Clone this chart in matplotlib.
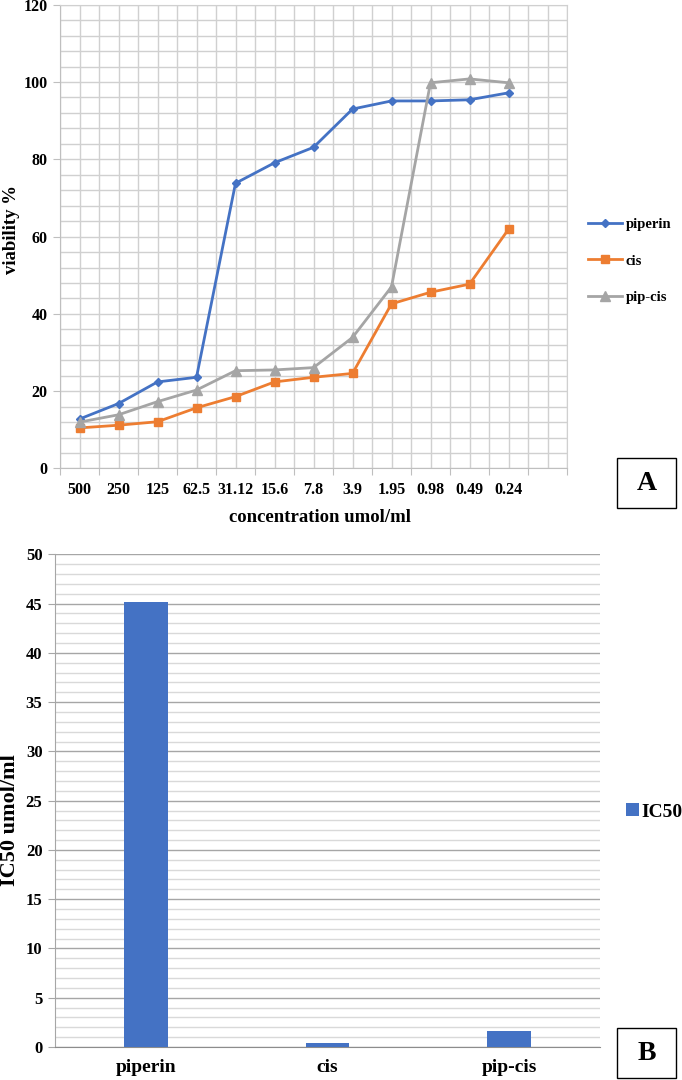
import numpy as np
import matplotlib
matplotlib.use("Agg")
from matplotlib import pyplot as plt
from matplotlib.patches import Rectangle

plt.rcParams['font.family'] = ['Liberation Serif', 'DejaVu Serif']
plt.rcParams['font.weight'] = 'bold'

# ---- data ----
concentrations = ["500", "250", "125", "62.5", "31.12", "15.6", "7.8", "3.9",
                  "1.95", "0.98", "0.49", "0.24"]
piperin = [12.8, 16.8, 22.4, 23.6, 73.8, 79.1, 83.1, 93.0, 95.1, 95.1, 95.4, 97.2]
cis = [10.5, 11.2, 12.1, 15.7, 18.6, 22.4, 23.6, 24.6, 42.6, 45.6, 47.7, 61.9]
pip_cis = [12.0, 13.9, 17.3, 20.3, 25.3, 25.5, 26.1, 33.9, 47.0, 99.8, 100.8, 99.8]

ic50_names = ["piperin", "cis", "pip-cis"]
ic50_values = [45.2, 0.4, 1.65]

blue = '#4472C4'
orange = '#ED7D31'
grey = '#A5A5A5'
gridc = '#d0d0d0'

W, H = 682, 1080
fig = plt.figure(figsize=(W / 100, H / 100), dpi=100)

#=============== A : viability curves ===============
ax1 = fig.add_axes([60 / W, 1 - 468.5 / H, 507 / W, 463.8 / H])
x = np.arange(len(concentrations))
ax1.plot(x, piperin, color=blue, lw=2, marker='D', ms=4.5, label='piperin', zorder=3)
ax1.plot(x, cis, color=orange, lw=2, marker='s', ms=6, label='cis', zorder=3)
ax1.plot(x, pip_cis, color=grey, lw=2, marker='^', ms=6.5, label='pip-cis', zorder=3)

ax1.set_xlim(-0.5, len(concentrations) + 0.5)
ax1.set_ylim(0, 120)
ax1.set_xticks(np.arange(-0.5, len(concentrations) + 1, 1))
ax1.set_xticklabels([])
ax1.set_xticks(np.arange(len(concentrations) + 1), minor=True)
ax1.set_xticklabels(concentrations + [""], minor=True)
ax1.set_yticks(np.arange(0, 121, 20))
ax1.set_yticks(np.arange(0, 121, 4), minor=True)
ax1.tick_params(axis='x', which='major', length=5, color='#bfbfbf', direction='out')
ax1.tick_params(axis='x', which='minor', length=0, pad=10, labelsize=11.5)
ax1.tick_params(axis='y', which='major', length=5, color='#bfbfbf', pad=4, labelsize=11.5)
ax1.tick_params(axis='y', which='minor', length=0)
ax1.grid(True, which='both', color=gridc, lw=1, zorder=0)
ax1.set_axisbelow(True)
for s in ax1.spines.values():
    s.set_color(gridc)
ax1.spines['left'].set_color('#bfbfbf')
ax1.spines['bottom'].set_color('#bfbfbf')

fig.text(11.5 / W, 1 - 229 / H, "viability %", rotation=90, ha='center',
         va='center', fontsize=13.5, fontweight='bold')
fig.text(320 / W, 1 - 518 / H, "concentration umol/ml", ha='center',
         va='center', fontsize=13.5, fontweight='bold')

fig.legend(handles=ax1.get_lines(), loc='center left',
           bbox_to_anchor=(588 / W, 1 - 261 / H), frameon=False,
           borderpad=0, borderaxespad=0, handlelength=2.3, handletextpad=0.3,
           labelspacing=1.6, prop={'weight': 'bold', 'size': 10.5})

#=============== B : IC50 bars ===============
ax2 = fig.add_axes([55 / W, 1 - 1047 / H, 545 / W, 492.7 / H])
xb = np.arange(len(ic50_names))
bars = ax2.bar(xb, ic50_values, width=0.24, color=blue, label='IC50', zorder=3)
ax2.set_xlim(-0.5, len(ic50_names) - 0.5)
ax2.set_ylim(0, 50)
ax2.set_xticks(xb)
ax2.set_xticklabels(ic50_names)
ax2.set_yticks(np.arange(0, 51, 5))
ax2.set_yticks(np.arange(0, 51, 1), minor=True)
ax2.tick_params(axis='x', length=0, pad=9, labelsize=14)
ax2.tick_params(axis='y', which='major', length=5, color='#a6a6a6', pad=4, labelsize=12)
ax2.tick_params(axis='y', which='minor', length=0)
ax2.grid(True, axis='y', which='major', color='#a6a6a6', lw=1, zorder=0)
ax2.grid(True, axis='y', which='minor', color='#d9d9d9', lw=1, zorder=0)
ax2.set_axisbelow(True)
ax2.spines['top'].set_visible(False)
ax2.spines['right'].set_visible(False)
ax2.spines['left'].set_color('#a6a6a6')
ax2.spines['bottom'].set_color('#8c8c8c')

fig.text(10 / W, 1 - 820 / H, "IC50 umol/ml", rotation=90, ha='center',
         va='center', fontsize=16, fontweight='bold')

fig.legend(handles=[bars], loc='center left', bbox_to_anchor=(626 / W, 1 - 812 / H),
           frameon=False, borderpad=0, borderaxespad=0, handlelength=0.65,
           handleheight=0.6, handletextpad=0.15, prop={'weight': 'bold', 'size': 14})

# panel letters
for label, top in (("A", 458), ("B", 1028)):
    fig.add_artist(Rectangle((617 / W, 1 - (top + 50) / H), 59 / W, 50 / H,
                             transform=fig.transFigure, fill=False,
                             edgecolor='black', lw=1))
    fig.text(646.5 / W, 1 - (top + 25) / H, label, ha='center', va='center',
             fontsize=20, fontweight='bold')

fig.savefig("out.png", dpi=100)
